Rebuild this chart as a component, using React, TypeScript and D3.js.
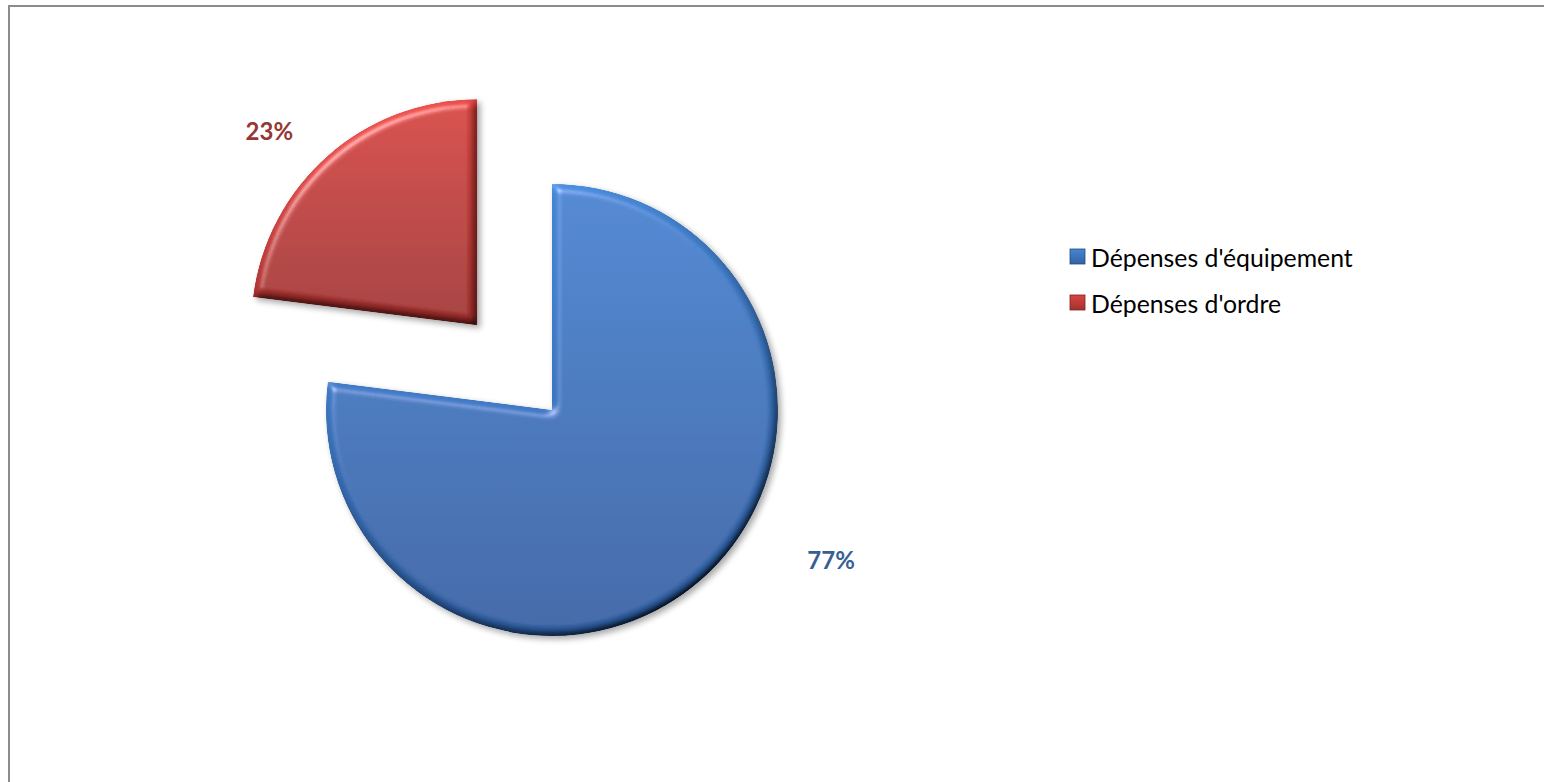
import React from 'react';
import * as d3 from 'd3';

const categories = ["Dépenses d'équipement", "Dépenses d'ordre"];
const values = [77, 23];
const percentLabels = ['77%', '23%'];

const W = 1544;
const H = 782;
const cx = 552;
const cy = 410;
const radius = 226;
const explodeOffset = [0, 0.5];
// label placement (radius factor, angle shift in degrees) like Excel's best fit
const labelPlacement = [
  { r: 1.4, shift: -20.5 },
  { r: 1.26, shift: -5.5 },
];

const palette = [
  { top: '#4686d4', bottom: '#3262a6', dark: '#24497c', label: '#376092' },
  { top: '#da4542', bottom: '#a3312f', dark: '#7a2220', label: '#953735' },
];

const FONT = 'Lato, "Open Sans", sans-serif';

export default function App() {
  const pie = d3
    .pie<number>()
    .sort(null)
    .startAngle(0)
    .endAngle(2 * Math.PI)(values);

  const arc = d3.arc<d3.PieArcDatum<number>>().innerRadius(0).outerRadius(radius);

  const slices = pie.map((d, i) => {
    const mid = (d.startAngle + d.endAngle) / 2;
    const off = explodeOffset[i] * radius;
    const ox = cx + Math.sin(mid) * off;
    const oy = cy - Math.cos(mid) * off;
    const la = mid + (labelPlacement[i].shift * Math.PI) / 180;
    const lr = labelPlacement[i].r * radius;
    return {
      d,
      i,
      ox,
      oy,
      lx: ox + Math.sin(la) * lr,
      ly: oy - Math.cos(la) * lr,
    };
  });

  const legendX = 1070;
  const legendY = 256;
  const legendStep = 46;

  return (
    <svg
      width={W}
      height={H}
      style={{ position: 'absolute', left: 0, top: 0, background: '#fff' }}
    >
      <defs>
        {palette.map((p, i) => (
          <linearGradient key={i} id={`grad-${i}`} x1="0" y1="0" x2="0" y2="1">
            <stop offset="0%" stopColor={p.top} />
            <stop offset="100%" stopColor={p.bottom} />
          </linearGradient>
        ))}
        <filter id="bevel" x="-10%" y="-10%" width="130%" height="130%">
          <feGaussianBlur in="SourceAlpha" stdDeviation="4.5" result="blur" />
          <feDiffuseLighting
            in="blur"
            surfaceScale="6"
            diffuseConstant="1"
            lightingColor="#ffffff"
            result="diffuse"
          >
            <feDistantLight azimuth="235" elevation="50" />
          </feDiffuseLighting>
          <feComposite
            in="SourceGraphic"
            in2="diffuse"
            operator="arithmetic"
            k1="1.25"
            k2="0"
            k3="0"
            k4="0"
            result="shaded"
          />
          <feSpecularLighting
            in="blur"
            surfaceScale="6"
            specularConstant="0.8"
            specularExponent="30"
            lightingColor="#ffffff"
            result="spec"
          >
            <feDistantLight azimuth="235" elevation="45" />
          </feSpecularLighting>
          <feComposite in="spec" in2="SourceAlpha" operator="in" result="specIn" />
          <feComposite
            in="shaded"
            in2="specIn"
            operator="arithmetic"
            k1="0"
            k2="1"
            k3="0.4"
            k4="0"
            result="lit"
          />
          <feComposite in="lit" in2="SourceAlpha" operator="in" result="litIn" />
          <feGaussianBlur in="SourceAlpha" stdDeviation="3" result="sblur" />
          <feOffset in="sblur" dx="3" dy="3" result="soff" />
          <feComponentTransfer in="soff" result="shadow">
            <feFuncA type="linear" slope="0.35" />
          </feComponentTransfer>
          <feMerge>
            <feMergeNode in="shadow" />
            <feMergeNode in="litIn" />
          </feMerge>
        </filter>
      </defs>

      {/* chart frame */}
      <rect x={9} y={6} width={W + 20} height={H + 20} fill="none" stroke="#8c8c8c" strokeWidth={2} />

      {/* slices */}
      {slices.map((s) => (
        <g key={s.i} transform={`translate(${s.ox},${s.oy})`}>
          <path d={arc(s.d) ?? ''} fill={`url(#grad-${s.i})`} filter="url(#bevel)" />
        </g>
      ))}

      {/* data labels */}
      {slices.map((s) => (
        <text
          key={`l-${s.i}`}
          x={s.lx}
          y={s.ly}
          textAnchor="middle"
          dominantBaseline="central"
          fontFamily={FONT}
          fontWeight="bold"
          fontSize={24}
          fill={palette[s.i].label}
        >
          {percentLabels[s.i]}
        </text>
      ))}

      {/* legend */}
      {categories.map((c, i) => (
        <g key={c} transform={`translate(${legendX},${legendY + i * legendStep})`}>
          <rect
            x={0}
            y={-7}
            width={15}
            height={15}
            fill={`url(#grad-${i})`}
            stroke={palette[i].dark}
            strokeWidth={0.8}
          />
          <text
            x={21}
            y={1}
            dominantBaseline="central"
            fontFamily={FONT}
            fontSize={24.8}
            fill="#000"
          >
            {c}
          </text>
        </g>
      ))}
    </svg>
  );
}
